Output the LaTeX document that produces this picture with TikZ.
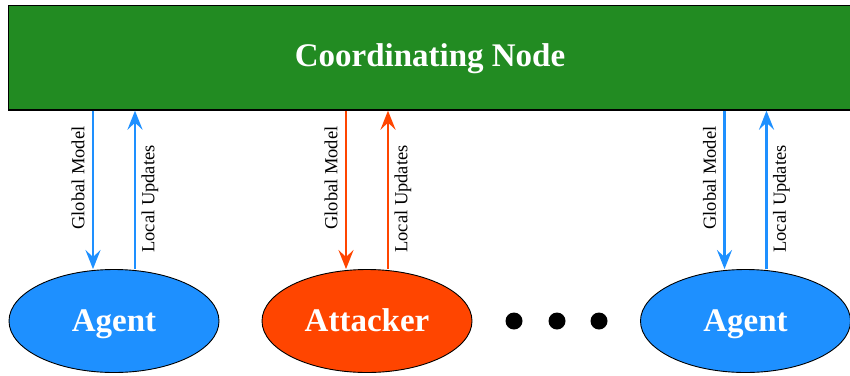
\documentclass[tikz,border=0pt]{standalone}
\usepackage{fontspec}
\setmainfont{Liberation Serif}
\usetikzlibrary{shapes.geometric,arrows.meta}
\definecolor{cgreen}{HTML}{228B22}
\definecolor{cblue}{HTML}{1E90FF}
\definecolor{cred}{HTML}{FF4500}
\tikzset{
  topbox/.style={draw=black, line width=1.3pt, fill=cgreen, inner sep=0pt,
    minimum width=846.5pt, minimum height=104.5pt},
  titletext/.style={text=white, font=\fontsize{33}{36}\selectfont\bfseries, inner sep=0pt},
  agentell/.style={ellipse, draw=black, line width=0.9pt, inner sep=0pt,
    minimum width=210pt, minimum height=103pt, text=white,
    font=\fontsize{33}{36}\selectfont\bfseries, text height=20pt, text depth=0pt},
  flow/.style={line width=2.8pt, -{Stealth[length=19pt,width=15pt,inset=7pt]}},
  lbl/.style={rotate=90, font=\fontsize{18.5}{20}\selectfont, inner sep=0pt},
  dot/.style={circle, fill=black, minimum size=17pt, inner sep=0pt}
}
\begin{document}
\begin{tikzpicture}[x=1pt,y=-1pt]
\useasboundingbox (0,0) rectangle (850,375);
\clip (0,0) rectangle (850,375);
\node[topbox] (top) at (431.75,57.75) {};
\node[titletext, anchor=base] (title) at (430,66) {Coordinating Node};

\node[agentell, fill=cblue] (a1) at (114,321) {Agent};
\node[agentell, fill=cred] (a2) at (367,321) {Attacker};
\node[agentell, fill=cblue] (a3) at (745.5,321) {Agent};

\node[dot] (d1) at (514,321) {};
\node[dot] (d2) at (557,321) {};
\node[dot] (d3) at (599,321) {};

\foreach \n/\c in {a1/cblue, a2/cred, a3/cblue}{
  \coordinate (\n l) at ([xshift=-21pt]\n.north);
  \coordinate (\n r) at ([xshift=21pt]\n.north);
  \draw[flow, \c] (\n l |- top.south) -- (\n l);
  \draw[flow, \c] (\n r) -- (\n r |- top.south);
  \node[lbl] (\n gm) at ([xshift=-15pt,yshift=91pt]\n l) {Global Model};
  \node[lbl] (\n lu) at ([xshift=15pt,yshift=70pt]\n r) {Local Updates};
}
\end{tikzpicture}
\end{document}
